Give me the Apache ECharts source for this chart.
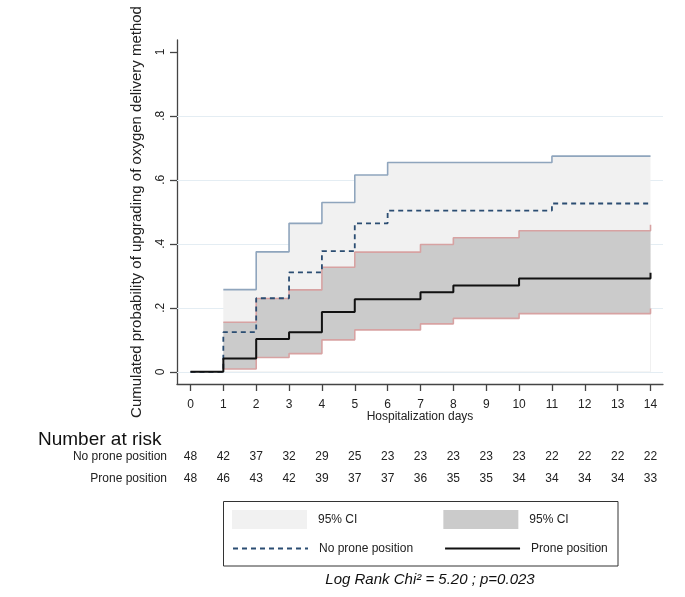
<!DOCTYPE html>
<html>
<head>
<meta charset="utf-8">
<script src="https://cdn.jsdelivr.net/npm/echarts@6/dist/echarts.min.js"></script>
<style>html,body{margin:0;padding:0;background:#fff;}#chart{width:685px;height:597px;}</style>
</head>
<body>
<div id="chart"></div>
<script>
// ---- data ----
var days = [0,1,2,3,4,5,6,7,8,9,10,11,12,13,14];
var noProne      = [0, 0.124, 0.230, 0.311, 0.377, 0.464, 0.504, 0.504, 0.504, 0.504, 0.504, 0.526, 0.526, 0.526, 0.526];
var noProneUpper = [null, 0.257, 0.375, 0.464, 0.529, 0.615, 0.654, 0.654, 0.654, 0.654, 0.654, 0.674, 0.674, 0.674, 0.674];
var prone        = [0, 0.042, 0.103, 0.124, 0.187, 0.227, 0.227, 0.249, 0.270, 0.270, 0.292, 0.292, 0.292, 0.292, 0.310];
var proneUpper   = [null, 0.155, 0.229, 0.256, 0.327, 0.374, 0.374, 0.398, 0.419, 0.419, 0.441, 0.441, 0.441, 0.441, 0.460];
var proneLower   = [null, 0.009, 0.045, 0.057, 0.100, 0.131, 0.131, 0.150, 0.167, 0.167, 0.182, 0.182, 0.182, 0.182, 0.198];
var riskNoProne  = [48,42,37,32,29,25,23,23,23,23,23,22,22,22,22];
var riskProne    = [48,46,43,42,39,37,37,36,35,35,34,34,34,34,33];
var yTicks = [0, 0.2, 0.4, 0.6, 0.8, 1];
var gridVals = [0, 0.2, 0.4, 0.6, 0.8];

// ---- helpers ----
function pairs(arr){ return days.map(function(d,i){ return [d, arr[i]]; }); }
var FONT = 'Liberation Sans, Arial, sans-serif';
var TXT = '#222';
var AX = '#444';
var XMIN = -0.41, XMAX = 14.38;

var chart = echarts.init(document.getElementById('chart'));

function riskAxis(offset, arr){
  return {
    type:'value', gridIndex:0, position:'bottom', offset:offset, min:XMIN, max:XMAX,
    axisLine:{show:false}, axisTick:{show:false}, splitLine:{show:false},
    axisLabel:{customValues:days, margin:0, verticalAlign:'middle', fontSize:12, color:TXT, fontFamily:FONT,
      formatter:function(v){ return String(arr[Math.round(v)]); }}
  };
}

function legendCfg(top, gap, data){
  return {
    left:232, top:top, padding:0, itemWidth:75, itemHeight:19, itemGap:gap, selectedMode:false,
    textStyle:{fontSize:12, color:TXT, fontFamily:FONT, padding:[0,0,0,6]},
    formatter:function(n){ return n.indexOf('95% CI')===0 ? '95% CI' : n; },
    data:data
  };
}

var option = {
  animation:false,
  backgroundColor:'#fff',
  textStyle:{fontFamily:FONT},
  grid:{left:177, right:22, top:40, bottom:213, containLabel:false},
  xAxis:[
    {
      type:'value', min:XMIN, max:XMAX,
      axisLine:{show:true, onZero:false, lineStyle:{color:AX, width:1.3}},
      axisTick:{show:true, customValues:days, length:7, lineStyle:{color:AX, width:1.3}},
      axisLabel:{customValues:days, margin:15, fontSize:12, color:TXT, fontFamily:FONT},
      splitLine:{show:false},
      name:'Hospitalization days', nameLocation:'middle', nameGap:27, nameMoveOverlap:false,
      nameTextStyle:{fontSize:12, color:TXT, fontFamily:FONT}
    },
    riskAxis(73, riskNoProne),
    riskAxis(95, riskProne)
  ],
  yAxis:{
    type:'value', min:-0.038, max:1.037,
    axisLine:{show:true, onZero:false, lineStyle:{color:AX, width:1.3}},
    axisTick:{show:true, customValues:yTicks, length:7, lineStyle:{color:AX, width:1.3}},
    axisLabel:{customValues:yTicks, rotate:90, margin:10, fontSize:12, color:TXT, fontFamily:FONT,
      formatter:function(v){ if(Math.abs(v)<1e-9) return '0'; if(Math.abs(v-1)<1e-9) return '1'; return String(+v.toFixed(1)).replace(/^0/,''); }},
    splitLine:{show:false},
    name:'Cumulated probability of upgrading of oxygen delivery method', nameLocation:'middle', nameGap:33, nameMoveOverlap:false,
    nameTextStyle:{fontSize:15, color:TXT, fontFamily:FONT}
  },
  legend:[
    legendCfg(510, 86, [
      {name:'95% CI (No prone)', icon:'rect', itemStyle:{color:'#f1f1f1'}},
      {name:'95% CI (Prone)', icon:'rect', itemStyle:{color:'#cbcbcb'}}
    ]),
    legendCfg(541, 31, [
      {name:'No prone position', itemStyle:{opacity:0}},
      {name:'Prone position', itemStyle:{opacity:0}}
    ])
  ],
  graphic:[
    {type:'rect', shape:{x:223.5, y:501.5, width:394.5, height:64.5}, style:{fill:'none', stroke:'#333', lineWidth:1}, silent:true},
    {type:'text', x:38, y:440, style:{text:'Number at risk', fontSize:19, fill:'#111', fontFamily:FONT, textAlign:'left', textVerticalAlign:'middle'}},
    {type:'text', x:167, y:457, style:{text:'No prone position', fontSize:12, fill:TXT, fontFamily:FONT, textAlign:'right', textVerticalAlign:'middle'}},
    {type:'text', x:167, y:479, style:{text:'Prone position', fontSize:12, fill:TXT, fontFamily:FONT, textAlign:'right', textVerticalAlign:'middle'}},
    {type:'text', x:430, y:580, style:{text:'Log Rank Chi\u00b2 = 5.20 ; p=0.023', fontSize:15, fontStyle:'italic', fill:'#111', fontFamily:FONT, textAlign:'center', textVerticalAlign:'middle'}}
  ],
  series:[
    { // gridlines
      type:'line', data:[], z:1, silent:true,
      markLine:{silent:true, z:1, symbol:['none','none'], label:{show:false}, animation:false,
        lineStyle:{color:'#e4edf3', width:1, type:'solid'},
        data:gridVals.map(function(v){ return {yAxis:v}; })}
    },
    { // no prone: upper CI bound, light band
      name:'95% CI (No prone)', type:'line', step:'end', symbol:'none', z:2,
      data:pairs(noProneUpper),
      lineStyle:{color:'#8fa5bd', width:1.6},
      itemStyle:{color:'#f1f1f1'},
      areaStyle:{color:'#f1f1f1', opacity:1, origin:0}
    },
    { // prone: upper CI bound, dark band
      name:'95% CI (Prone)', type:'line', step:'end', symbol:'none', z:3,
      data:pairs(proneUpper),
      lineStyle:{color:'#d7a2a2', width:1.6},
      itemStyle:{color:'#cbcbcb'},
      areaStyle:{color:'#cbcbcb', opacity:1, origin:0}
    },
    { // prone: lower CI bound (white below)
      name:'proneLower', type:'line', step:'end', symbol:'none', z:3,
      data:pairs(proneLower),
      lineStyle:{color:'#d7a2a2', width:1.6},
      areaStyle:{color:'#ffffff', opacity:1, origin:0}
    },
    {
      name:'No prone position', type:'line', step:'end', symbol:'none', z:4,
      data:pairs(noProne),
      itemStyle:{color:'#2b4d72'},
      lineStyle:{color:'#2b4d72', width:1.8, type:[5,4]}
    },
    {
      name:'Prone position', type:'line', step:'end', symbol:'none', z:5,
      data:pairs(prone),
      itemStyle:{color:'#111'},
      lineStyle:{color:'#111', width:2}
    }
  ]
};
chart.setOption(option);
</script>
</body>
</html>
